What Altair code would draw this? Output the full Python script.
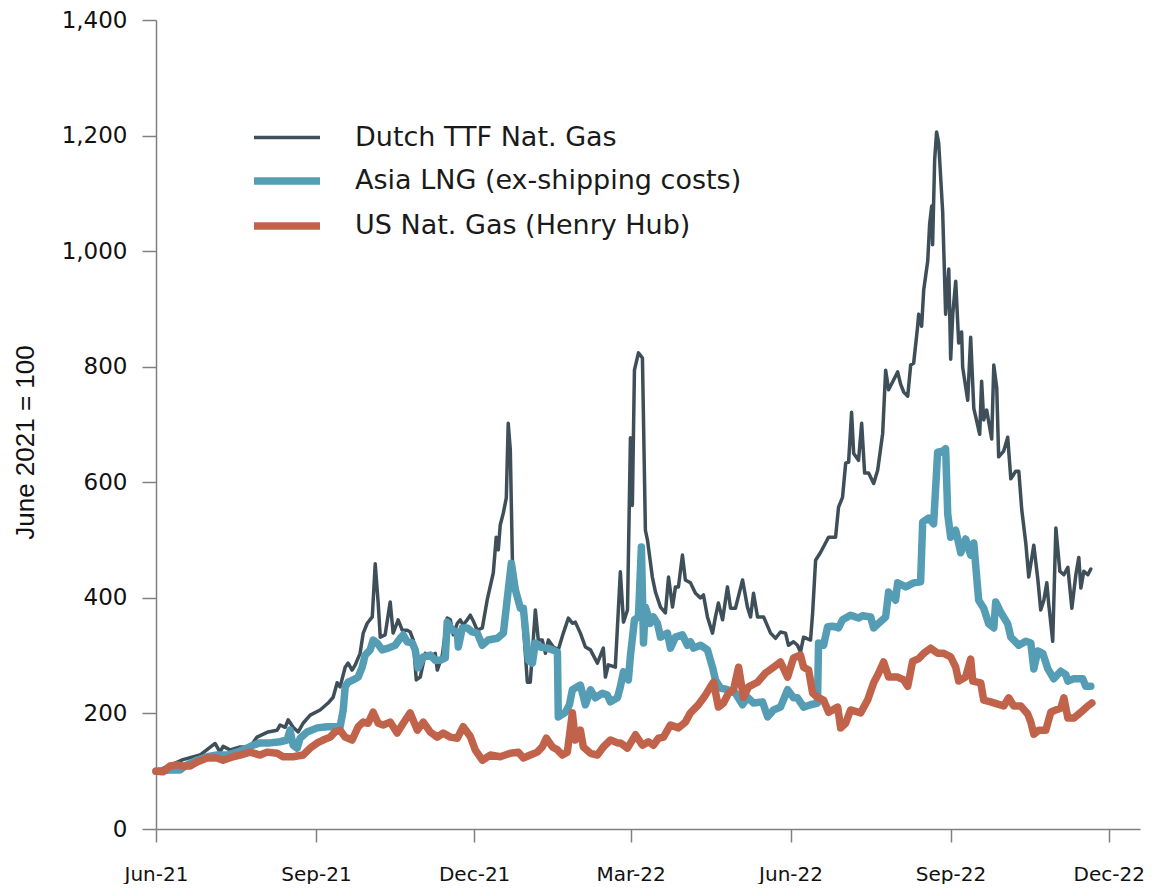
import altair as alt
import pandas as pd

# Days since 2021-06-01 and index values (June 2021 = 100)
dutch_days = [0, 8.1, 15.5, 25.3, 34.0, 36.8, 38.6, 42.6, 48.4, 54.1, 58.1, 64.5, 69.7, 71.4, 74.3, 76.0, 78.9, 81.8, 84.6, 88.7,
              94.4, 99.0, 101.9, 104.2, 105.9, 108.8, 110.5, 112.8, 114.6, 117.4, 119.2, 121.5, 124.4, 126.1, 127.8, 129.0, 131.8, 134.7, 136.4, 139.3,
              141.6, 144.5, 146.2, 148.0, 149.7, 152.0, 154.9, 157.7, 160.6, 161.8, 164.7, 167.5, 169.3, 171.0, 173.3, 175.0, 176.7, 179.0, 180.8, 182.5,
              184.8, 187.7, 190.6, 194.0, 195.7, 196.9, 198.0, 199.8, 201.5, 202.6, 203.8, 205.0, 207.8, 210.7, 213.6, 215.3, 218.2, 219.9, 222.2, 224.0,
              225.7, 228.6, 231.4, 234.3, 237.2, 239.5, 241.2, 244.1, 247.0, 249.9, 253.9, 257.3, 258.5, 260.2, 264.2, 267.1, 268.9, 271.2, 272.9, 274.0,
              275.2, 277.5, 279.8, 281.5, 282.7, 285.5, 287.3, 290.2, 293.0, 294.8, 297.1, 298.8, 300.5, 302.8, 304.5, 307.4, 310.3, 313.2, 314.9, 317.2,
              320.1, 321.8, 323.5, 325.9, 328.7, 330.5, 333.3, 337.4, 340.2, 342.0, 343.7, 346.0, 349.5, 353.5, 356.4, 359.2, 362.1, 363.8, 366.7, 369.0,
              370.7, 372.5, 376.5, 377.7, 379.4, 382.3, 385.1, 386.9, 390.9, 392.6, 394.9, 396.7, 398.4, 400.1, 401.3, 404.1, 405.9, 407.6, 409.9, 412.8,
              415.1, 418.0, 419.7, 421.4, 426.6, 428.3, 430.1, 432.4, 434.1, 435.8, 438.1, 438.7, 440.4, 441.6, 443.9, 445.0, 446.2, 446.7, 447.9, 449.0,
              450.2, 452.5, 454.2, 456.0, 457.1, 458.3, 460.0, 461.7, 463.4, 464.0, 466.9, 468.6, 470.4, 473.8, 474.9, 476.1, 477.8, 480.7, 481.9, 483.6,
              484.7, 487.6, 489.9, 491.7, 494.5, 496.3, 498.0, 500.3, 502.0, 504.9, 507.2, 508.9, 510.7, 512.4, 513.5, 515.8, 517.6, 519.9, 522.2, 524.5,
              526.8, 529.1, 530.8, 532.0, 533.7, 536.0, 537.7]
dutch_vals = [100, 110, 120, 128, 148, 133, 143, 137, 142, 142, 159, 168, 171, 180, 176, 189, 176, 168, 183, 197,
              206, 218, 228, 253, 246, 280, 287, 275, 284, 304, 339, 356, 367, 459, 391, 332, 336, 393, 339, 362,
              344, 344, 341, 327, 258, 263, 304, 298, 304, 275, 301, 365, 362, 336, 356, 362, 353, 362, 370, 360,
              344, 348, 398, 443, 505, 483, 526, 547, 573, 702, 656, 465, 408, 379, 254, 254, 379, 327, 327, 304,
              327, 315, 310, 339, 365, 356, 358, 339, 315, 310, 287, 313, 263, 284, 280, 445, 358, 379, 677, 560,
              794, 824, 815, 517, 500, 436, 410, 384, 374, 436, 384, 419, 419, 474, 431, 426, 408, 400, 405, 367,
              339, 367, 391, 362, 419, 382, 382, 431, 384, 367, 408, 367, 367, 339, 330, 341, 339, 318, 324, 318,
              306, 332, 327, 374, 465, 479, 495, 505, 505, 557, 574, 633, 635, 721, 650, 638, 702, 616, 616, 598,
              621, 685, 794, 760, 791, 770, 756, 749, 803, 806, 870, 891, 870, 933, 983, 1047, 1078, 1011, 1159, 1206,
              1187, 1068, 891, 969, 813, 891, 948, 841, 860, 799, 742, 851, 728, 683, 775, 708, 725, 675, 803, 763,
              644, 654, 678, 606, 619, 619, 552, 495, 436, 491, 433, 379, 396, 426, 389, 325, 521, 446, 440, 453,
              382, 440, 470, 417, 446, 440, 450]

asia_days = [0, 8.1, 13.8, 17.8, 23.6, 29.4, 35.1, 40.9, 46.6, 52.4, 55.8, 59.9, 65.6, 71.4, 75.4, 77.1, 78.9, 81.2, 82.9, 86.9,
             92.7, 98.4, 105.9, 107.7, 108.8, 110.5, 113.4, 116.3, 118.6, 120.3, 123.2, 124.9, 127.2, 130.1, 133.6, 137.6, 140.5, 142.2, 144.5, 147.4,
             149.1, 150.8, 153.7, 157.7, 160.6, 163.5, 166.4, 167.5, 170.4, 173.3, 173.9, 176.2, 179.0, 181.9, 184.8, 187.7, 191.1, 196.3, 199.8, 202.1,
             204.4, 206.7, 209.6, 211.3, 214.2, 216.5, 218.2, 221.1, 225.1, 228.0, 230.9, 231.4, 235.5, 237.8, 239.5, 244.1, 247.0, 249.9, 252.7, 256.8,
             259.6, 261.4, 265.4, 267.1, 268.9, 271.7, 272.9, 275.2, 277.5, 279.2, 280.4, 281.5, 284.4, 286.1, 288.4, 290.2, 294.2, 295.9, 298.8, 302.8,
             305.7, 307.4, 309.2, 313.2, 317.2, 320.1, 321.8, 324.7, 328.7, 333.3, 337.4, 340.2, 343.7, 348.9, 351.8, 355.2, 359.2, 363.3, 366.7, 369.0,
             372.5, 376.5, 380.5, 381.1, 384.0, 386.3, 389.2, 392.6, 394.9, 399.5, 404.1, 406.4, 411.1, 412.8, 415.7, 419.7, 421.4, 425.4, 426.6, 431.2,
             435.8, 439.8, 441.0, 444.4, 447.3, 449.6, 452.5, 454.2, 455.4, 457.1, 460.0, 462.9, 465.7, 468.6, 470.4, 473.2, 476.1, 479.0, 481.9, 483.0,
             485.9, 489.9, 491.7, 496.3, 500.3, 503.2, 504.9, 507.2, 510.1, 513.0, 516.4, 520.4, 523.3, 524.5, 527.9, 533.1, 534.8, 537.7]
asia_vals = [100, 102, 102, 111, 119, 125, 128, 128, 133, 140, 145, 149, 149, 151, 154, 171, 145, 140, 157, 168,
             175, 177, 177, 206, 246, 254, 258, 263, 280, 301, 310, 327, 322, 310, 313, 318, 330, 336, 324, 322,
             310, 279, 298, 301, 292, 292, 296, 358, 344, 341, 315, 348, 348, 341, 339, 318, 327, 330, 339, 400,
             460, 414, 382, 382, 292, 287, 322, 315, 313, 310, 306, 194, 202, 215, 241, 249, 215, 241, 227, 235,
             232, 220, 227, 246, 272, 258, 300, 362, 367, 488, 322, 384, 356, 367, 356, 332, 339, 313, 332, 336,
             318, 324, 313, 318, 310, 280, 258, 244, 241, 235, 215, 228, 218, 220, 194, 206, 211, 241, 227, 227,
             211, 215, 218, 322, 318, 350, 351, 348, 362, 370, 365, 369, 367, 348, 356, 367, 410, 396, 426, 419,
             426, 428, 531, 538, 528, 652, 654, 658, 545, 505, 517, 478, 502, 474, 495, 396, 382, 355, 348, 393,
             375, 355, 332, 318, 325, 322, 277, 308, 304, 277, 260, 273, 267, 256, 260, 260, 247, 247]

us_days = [0, 4.0, 8.1, 12.1, 15.5, 19.6, 23.6, 29.4, 35.1, 38.6, 44.3, 48.4, 54.1, 59.9, 63.9, 69.7, 73.1, 78.9, 84.6, 88.7,
           92.7, 96.1, 100.2, 103.0, 105.9, 108.8, 112.8, 116.3, 119.2, 122.0, 124.9, 127.8, 130.7, 134.7, 138.7, 142.2, 146.2, 150.3, 153.7, 157.7,
           161.8, 165.2, 169.3, 173.3, 176.7, 180.8, 183.6, 187.7, 192.3, 198.0, 203.8, 208.4, 211.3, 215.3, 219.3, 222.2, 224.5, 228.0, 230.9, 233.7,
           236.6, 239.5, 241.2, 244.1, 245.8, 249.9, 253.9, 257.3, 261.4, 265.4, 267.1, 271.2, 275.8, 279.8, 283.2, 286.1, 289.0, 291.9, 295.9, 300.5,
           304.5, 307.4, 312.0, 316.1, 318.9, 320.7, 323.5, 326.4, 329.3, 332.2, 335.1, 337.9, 340.8, 346.0, 350.6, 355.2, 359.2, 363.3, 366.7, 370.7,
           372.5, 375.4, 377.7, 380.5, 384.0, 386.9, 392.1, 393.8, 396.7, 399.5, 405.3, 409.3, 412.8, 415.7, 418.5, 421.4, 426.6, 430.1, 432.4, 435.2,
           438.7, 441.6, 445.6, 449.6, 453.1, 457.1, 460.0, 461.7, 465.7, 468.6, 469.8, 474.4, 476.1, 480.1, 484.2, 487.6, 490.5, 493.4, 497.4, 501.4,
           503.2, 504.9, 507.8, 511.8, 514.7, 517.6, 520.4, 522.2, 524.5, 527.9, 532.0, 536.0, 538.3]
us_vals = [100, 99, 109, 111, 109, 109, 116, 123, 123, 119, 125, 128, 133, 128, 133, 131, 125, 125, 128, 140,
           149, 154, 159, 168, 171, 159, 154, 177, 185, 183, 202, 183, 180, 185, 166, 183, 201, 171, 185, 168,
           159, 166, 159, 157, 177, 160, 137, 119, 128, 125, 131, 133, 123, 128, 133, 142, 157, 142, 137, 128,
           133, 201, 154, 171, 142, 131, 128, 142, 154, 149, 149, 140, 163, 145, 151, 145, 157, 159, 180, 175,
           185, 201, 215, 232, 246, 254, 211, 218, 235, 241, 280, 228, 246, 254, 270, 280, 289, 263, 296, 301,
           280, 275, 235, 228, 223, 202, 211, 175, 183, 206, 201, 223, 253, 270, 289, 263, 263, 258, 247, 290,
           295, 304, 313, 304, 304, 298, 280, 256, 263, 294, 256, 253, 223, 220, 216, 213, 227, 213, 213, 199,
           185, 164, 171, 171, 202, 206, 209, 227, 192, 192, 202, 213, 218]

series_names = ["Dutch TTF Nat. Gas", "Asia LNG (ex-shipping costs)", "US Nat. Gas (Henry Hub)"]
series_colors = ["#3e4f5a", "#559db5", "#c1634a"]
series_widths = [3.5, 7.5, 7.5]
y_ticks = [0, 200, 400, 600, 800, 1000, 1200, 1400]

start = pd.Timestamp("2021-06-01")
frames = []
for name, days, vals in [(series_names[0], dutch_days, dutch_vals),
                         (series_names[1], asia_days, asia_vals),
                         (series_names[2], us_days, us_vals)]:
    frames.append(pd.DataFrame({
        "date": start + pd.to_timedelta(days, unit="D"),
        "value": vals,
        "series": name,
    }))
df = pd.concat(frames, ignore_index=True)

legend = alt.Legend(
    title=None, orient="none", legendX=138, legendY=104,
    symbolType="M-5,0H1", symbolSize=484, labelFontSize=27, labelFont="DejaVu Sans",
    labelColor="#1a1a1a", labelOffset=31, rowPadding=15,
    padding=0, labelLimit=500,
)

base = alt.Chart(df).mark_line(strokeCap="round", strokeJoin="round").encode(
    x=alt.X("date:T", title=None,
            scale=alt.Scale(domain=[alt.DateTime(year=2021, month=6, date=1),
                                    alt.DateTime(year=2022, month=12, date=19)]),
            axis=alt.Axis(values=[alt.DateTime(year=2021, month=6, date=1),
                                  alt.DateTime(year=2021, month=9, date=1),
                                  alt.DateTime(year=2021, month=12, date=1),
                                  alt.DateTime(year=2022, month=3, date=1),
                                  alt.DateTime(year=2022, month=6, date=1),
                                  alt.DateTime(year=2022, month=9, date=1),
                                  alt.DateTime(year=2022, month=12, date=1)],
                          format="%b-%y", labelFontSize=20, labelPadding=22, tickSize=13,
                          labelFlush=False, labelOverlap=False)),
    y=alt.Y("value:Q", title="June 2021 = 100",
            scale=alt.Scale(domain=[0, 1400], nice=False),
            axis=alt.Axis(values=y_ticks, format=",d", labelFontSize=23, labelPadding=15,
                          tickSize=14, titleFont="Liberation Sans", titleFontSize=26,
                          titleFontWeight="normal", titleX=-131, titleY=422,
                          titleBaseline="middle", titleAlign="center")),
    color=alt.Color("series:N", scale=alt.Scale(domain=series_names, range=series_colors), legend=legend),
    strokeWidth=alt.StrokeWidth("series:N",
                                scale=alt.Scale(type="ordinal", domain=series_names, range=series_widths),
                                legend=legend),
)

layers = [base.transform_filter(alt.datum.series == n) for n in series_names]

chart = alt.layer(*layers).properties(
    width=984, height=809,
    autosize=alt.AutoSizeParams(type="none"),
    padding={"left": 148, "top": 12, "right": 5, "bottom": 55},
).configure_view(stroke=None).configure_axis(
    grid=False, domainColor="#808080", domainWidth=1.5, tickColor="#808080", tickWidth=1.5,
    labelFont="DejaVu Sans", labelColor="#111111", titleColor="#111111",
)

chart.save("out.html", embed_options={"renderer": "svg", "actions": False})
